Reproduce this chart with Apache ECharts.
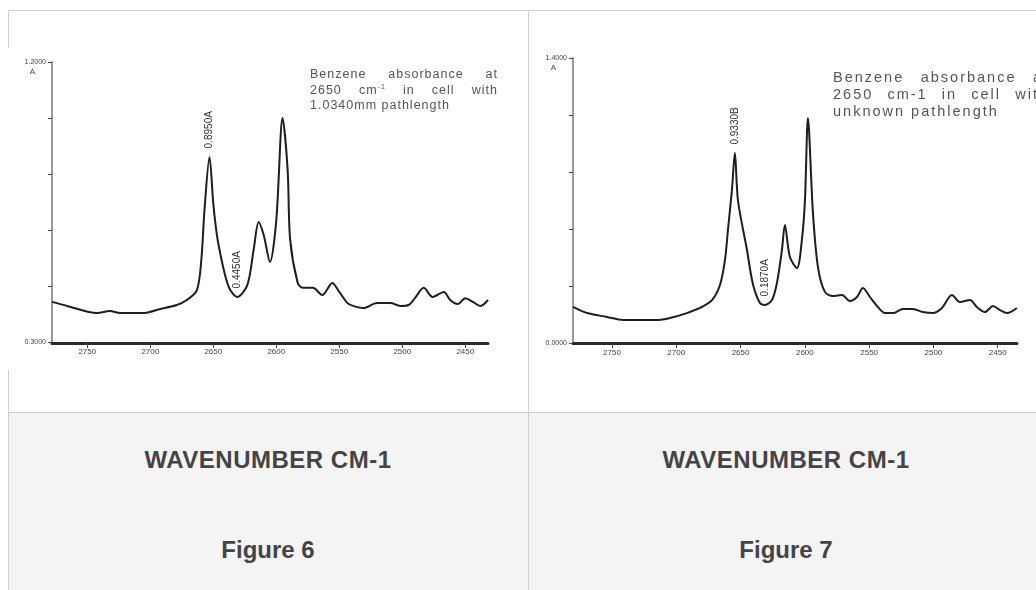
<!DOCTYPE html>
<html>
<head>
<meta charset="utf-8">
<script src="https://cdn.jsdelivr.net/npm/echarts@6/dist/echarts.min.js"></script>
<style>
  html, body { margin: 0; padding: 0; }
  body {
    width: 1036px; height: 590px; overflow: hidden; position: relative;
    background: #fff; font-family: "Liberation Sans", Arial, sans-serif;
  }
  .line { position: absolute; background: #cfcfcf; }
  .cell_gray { position: absolute; background: #f4f4f4; }
  .cell_text {
    position: absolute; width: 516px; text-align: center;
    font-weight: bold; font-size: 24px; color: #444; line-height: 28px;
  }
  .chart_box { position: absolute; background: #fff; }
  .note { position: absolute; color: #555; white-space: nowrap; }
  .note div { text-align: justify; text-align-last: justify; }
  .note div.last { text-align-last: left; }
  .note6 { font-size: 12.5px; line-height: 15.5px; letter-spacing: 1px; }
  .note7 { font-size: 14.5px; line-height: 17px; letter-spacing: 2px; }
</style>
</head>
<body>
  <!-- 表格线 -->
  <div class="line" style="left:8px;top:10px;width:1040px;height:1px;"></div>
  <div class="line" style="left:8px;top:10px;width:1px;height:580px;"></div>
  <div class="line" style="left:528px;top:10px;width:1px;height:580px;"></div>
  <div class="cell_gray" style="left:9px;top:413px;width:519px;height:177px;"></div>
  <div class="cell_gray" style="left:529px;top:413px;width:520px;height:177px;"></div>
  <div class="line" style="left:8px;top:412px;width:1040px;height:1px;"></div>

  <!-- 两张谱图 -->
  <div id="chart6" class="chart_box" style="left:8px;top:48px;width:492px;height:322px;"></div>
  <div id="chart7" class="chart_box" style="left:530px;top:48px;width:506px;height:322px;"></div>

  <div class="note note6" style="left:310px;top:67px;width:188px;">
    <div>Benzene absorbance at</div>
    <div>2650 cm<sup style="font-size:7px;line-height:0;">-1</sup> in cell with</div>
    <div class="last">1.0340mm pathlength</div>
  </div>
  <div class="note note7" style="left:833px;top:69px;width:216px;">
    <div>Benzene absorbance at</div>
    <div>2650 cm-1 in cell with</div>
    <div class="last">unknown pathlength</div>
  </div>

  <!-- 下方说明 -->
  <div class="cell_text" style="left:10px;top:446px;letter-spacing:0.5px;">WAVENUMBER CM-1</div>
  <div class="cell_text" style="left:528px;top:446px;letter-spacing:0.5px;">WAVENUMBER CM-1</div>
  <div class="cell_text" style="left:10px;top:536px;">Figure 6</div>
  <div class="cell_text" style="left:528px;top:536px;">Figure 7</div>

<script>
// 横轴刻度 (cm-1)
const xTicks = [2750, 2700, 2650, 2600, 2550, 2500, 2450];

// Figure 6
const wn6 = [2778, 2766, 2742, 2732, 2724, 2706, 2692, 2679, 2671, 2663, 2659.5, 2657, 2653, 2650,
  2647, 2644, 2640, 2636.5, 2631, 2623, 2618, 2614, 2610, 2605, 2600, 2595, 2591, 2589, 2583, 2579, 2571,
  2563.5, 2555.5, 2551, 2543.5, 2539, 2531, 2520, 2509.5, 2501.5, 2495, 2490, 2483, 2476, 2467,
  2462, 2456, 2450, 2444, 2438, 2432];
const abs6 = [0.429, 0.416, 0.393, 0.400, 0.393, 0.393, 0.406, 0.419, 0.435, 0.467, 0.564, 0.724, 0.895, 0.745,
  0.640, 0.575, 0.505, 0.467, 0.445, 0.483, 0.596, 0.686, 0.644, 0.557, 0.692, 1.020, 0.853, 0.628, 0.490, 0.474, 0.474,
  0.451, 0.490, 0.467, 0.425, 0.416, 0.409, 0.425, 0.425, 0.416, 0.419, 0.441, 0.474, 0.445, 0.461,
  0.435, 0.422, 0.441, 0.429, 0.416, 0.435];
const yTicks6 = [0.3, 0.48, 0.66, 0.84, 1.02, 1.2];
const yLabels6 = [0.3, 1.2];
const marks6 = [[2653, 0.895, 'A'], [2631, 0.445, 'A']];

// Figure 7
const wn7 = [2780.3, 2769.4, 2753.9, 2741.4, 2730.6, 2715, 2704.9, 2691.7, 2681.6, 2672.2, 2666, 2662.1,
  2659.8, 2656.7, 2654.4, 2652, 2645, 2640.4, 2634.9, 2631, 2625.6, 2621.7, 2617.8, 2615.5, 2611.6,
  2606.1, 2602.3, 2599.9, 2597.6, 2593.7, 2589.8, 2584.4, 2578.1, 2571.1, 2564.9, 2559.5, 2554.8,
  2549.4, 2543.9, 2537.7, 2531.5, 2523.7, 2515.9, 2508.2, 2500.4, 2493.4, 2485.6, 2479.4, 2471.6,
  2466.2, 2459.9, 2453.7, 2448.3, 2442.8, 2435.1];
const abs7 = [0.177, 0.147, 0.128, 0.113, 0.113, 0.113, 0.123, 0.147, 0.172, 0.211, 0.285, 0.408,
  0.555, 0.752, 0.933, 0.700, 0.457, 0.290, 0.196, 0.187, 0.211, 0.295, 0.457, 0.580, 0.422,
  0.368, 0.506, 0.702, 1.105, 0.639, 0.373, 0.251, 0.231, 0.236, 0.206, 0.226, 0.270,
  0.226, 0.182, 0.147, 0.147, 0.167, 0.167, 0.152, 0.147, 0.172, 0.236, 0.201, 0.211,
  0.177, 0.152, 0.182, 0.162, 0.147, 0.172];
const yTicks7 = [0, 0.28, 0.56, 0.84, 1.12, 1.4];
const yLabels7 = [0, 1.4];
const marks7 = [[2654.4, 0.933, 'B'], [2631, 0.187, 'A']];

function spectrumOption(wn, abs, cfg) {
  const inkColor = '#1e1e1e';
  return {
    animation: false,
    grid: cfg.grid,
    xAxis: {
      type: 'value',
      inverse: true,
      min: cfg.xMin,
      max: cfg.xMax,
      offset: 1,
      axisLine: { show: true, lineStyle: { color: '#2a2a2a', width: 3 } },
      axisTick: { show: true, customValues: xTicks, length: 5, lineStyle: { color: '#444', width: 1 } },
      axisLabel: {
        customValues: xTicks, color: '#444', fontSize: 8, margin: 5,
        formatter: function (v) { return String(v); }
      },
      splitLine: { show: false }
    },
    yAxis: {
      type: 'value',
      min: cfg.yMin,
      max: cfg.yMax,
      name: 'A',
      nameLocation: 'end',
      nameGap: 0,
      nameTextStyle: {
        color: '#444', fontSize: 8, align: 'right', verticalAlign: 'top',
        padding: [6, 17, 0, 0]
      },
      axisLine: { show: true, lineStyle: { color: '#777', width: 1.5 } },
      axisTick: { show: true, customValues: cfg.yTicks, length: 4, lineStyle: { color: '#444' } },
      axisLabel: {
        customValues: cfg.yLabels, color: '#444', fontSize: 7, margin: 6,
        formatter: function (v) { return v.toFixed(4); }
      },
      splitLine: { show: false }
    },
    series: [{
      type: 'line',
      data: wn.map(function (w, i) { return [w, abs[i]]; }),
      smooth: 0.3,
      showSymbol: false,
      lineStyle: { color: inkColor, width: 2 },
      markPoint: {
        symbol: 'circle',
        symbolSize: 1,
        itemStyle: { color: 'transparent' },
        label: {
          show: true, position: 'top', distance: 8, rotate: 90,
          align: 'left', verticalAlign: 'middle',
          color: '#333', fontSize: 10,
          formatter: function (p) { return p.value.toFixed(4) + p.name; }
        },
        data: cfg.marks.map(function (m) {
          return { coord: [m[0], m[1]], value: m[1], name: m[2] };
        })
      }
    }]
  };
}

const chart6 = echarts.init(document.getElementById('chart6'));
chart6.setOption(spectrumOption(wn6, abs6, {
  grid: { left: 44, top: 14, right: 12, bottom: 28 },
  xMin: 2432, xMax: 2778,
  yMin: 0.3, yMax: 1.2, yTicks: yTicks6, yLabels: yLabels6,
  marks: marks6
}));

const chart7 = echarts.init(document.getElementById('chart7'));
chart7.setOption(spectrumOption(wn7, abs7, {
  grid: { left: 43, top: 10, right: 19, bottom: 27 },
  xMin: 2435, xMax: 2780.3,
  yMin: 0, yMax: 1.4, yTicks: yTicks7, yLabels: yLabels7,
  marks: marks7
}));
</script>
</body>
</html>
